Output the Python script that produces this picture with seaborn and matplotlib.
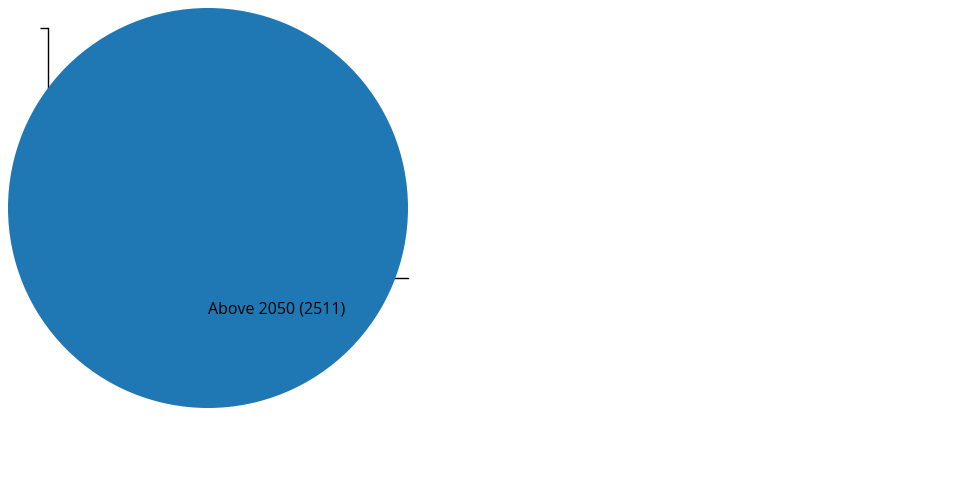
import matplotlib
matplotlib.use("Agg")
import matplotlib.pyplot as plt
import seaborn as sns

categories = ["Above 2050"]
counts = [2511]

sns.set_theme(style="ticks")
plt.rcParams["font.family"] = ["Open Sans", "DejaVu Sans"]

fig = plt.figure(figsize=(9.6, 5), dpi=100)

# empty axes behind the pie (left + bottom spine only)
ax0 = fig.add_axes([48 / 960, 222 / 500, 360 / 960, 250 / 500])
ax0.set_xlim(0, 1)
ax0.set_ylim(0, 1)
ax0.set_xticks([])
ax0.set_yticks([1])
ax0.set_yticklabels([""])
ax0.tick_params(axis="y", length=6, width=1, color="black")
for s in ["top", "right"]:
    ax0.spines[s].set_visible(False)
for s in ["left", "bottom"]:
    ax0.spines[s].set_color("black")
    ax0.spines[s].set_linewidth(1)
ax0.patch.set_visible(False)

ax = fig.add_axes([8 / 960, 92 / 500, 400 / 960, 400 / 500])
color = sns.color_palette("tab10")[0]
ax.pie(counts, colors=[color], startangle=90, counterclock=False,
       wedgeprops={"linewidth": 0}, radius=1)
ax.set_xlim(-1, 1)
ax.set_ylim(-1, 1)
ax.set_aspect("equal")
for c, v in zip(categories, counts):
    ax.text(0, -0.51, f"{c} ({v})", ha="left", va="center",
            fontsize=11.5, color="black")

fig.savefig("out.png", dpi=100)
